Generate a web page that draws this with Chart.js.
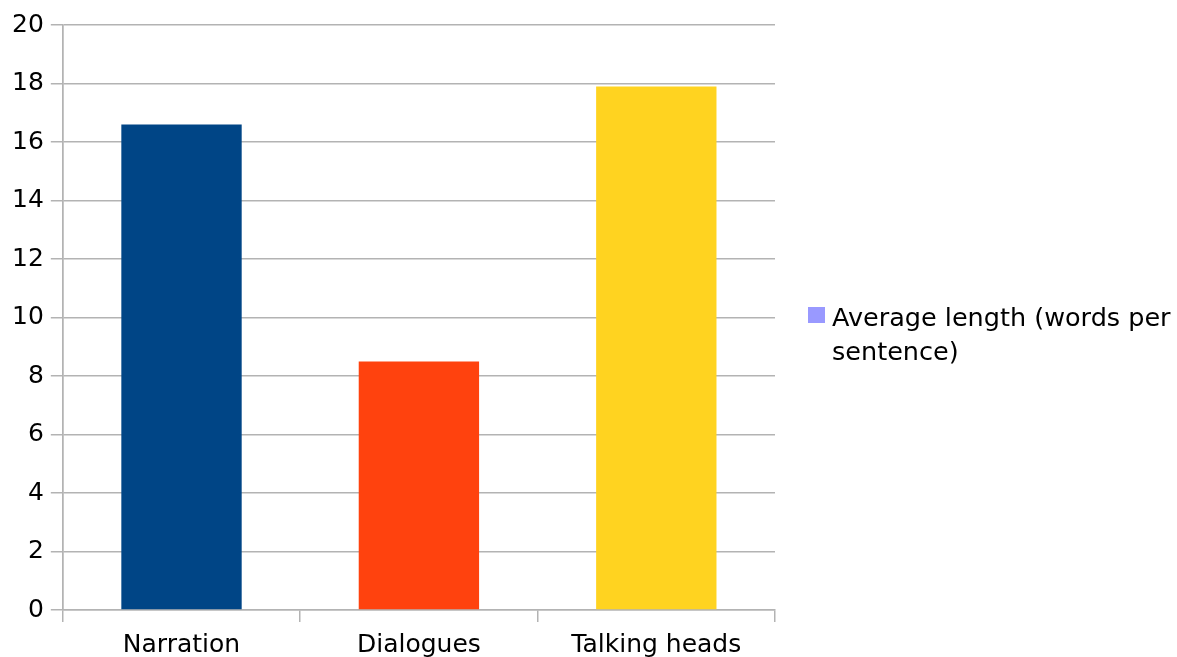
<!DOCTYPE html>
<html>
<head>
<meta charset="utf-8">
<script src="https://cdn.jsdelivr.net/npm/chart.js@4"></script>
<style>
  html, body { margin: 0; padding: 0; background: #fff; overflow: hidden; }
  #wrap { position: relative; width: 1177px; height: 657px; overflow: hidden; }
  #legend {
    position: absolute; left: 808px; top: 300px;
    font-family: "DejaVu Sans", sans-serif; font-size: 25.5px; line-height: 34px; color: #000;
  }
  #legend .sw {
    position: absolute; left: 0; top: 7px; width: 17px; height: 16px; background: #9999ff;
  }
  #legend .txt { margin-left: 24px; width: 360px; }
</style>
</head>
<body>
<div id="wrap">
  <canvas id="chart" width="1177" height="668"></canvas>
  <div id="legend"><div class="sw"></div><div class="txt">Average length (words per<br>sentence)</div></div>
</div>
<script>
  const categories = ['Narration', 'Dialogues', 'Talking heads'];
  const seriesLabel = 'Average length (words per sentence)';
  const averageLength = [16.6, 8.5, 17.9];
  const barColors = ['#004586', '#ff420e', '#ffd320'];

  const gridGray = '#b3b3b3';
  Chart.defaults.font.family = '"DejaVu Sans", sans-serif';
  Chart.defaults.font.size = 25;
  Chart.defaults.color = '#000';

  new Chart(document.getElementById('chart'), {
    type: 'bar',
    data: {
      labels: categories,
      datasets: [{
        label: seriesLabel,
        data: averageLength,
        backgroundColor: barColors,
        borderWidth: 0,
        categoryPercentage: 1,
        barPercentage: 0.507
      }]
    },
    options: {
      responsive: false,
      animation: false,
      layout: { padding: { left: 5, right: 402, top: 25, bottom: 0 } },
      plugins: { legend: { display: false }, tooltip: { enabled: false } },
      scales: {
        x: {
          offset: true,
          grid: {
            offset: true,
            drawOnChartArea: true,
            tickLength: 12,
            lineWidth: 1.5,
            tickColor: gridGray,
            color: (ctx) => (ctx.index === 0 || ctx.index === categories.length) ? gridGray : 'rgba(0,0,0,0)'
          },
          border: { color: gridGray, width: 1.5 },
          ticks: { padding: 8 }
        },
        y: {
          min: 0,
          max: 20,
          ticks: { stepSize: 2, padding: 7 },
          grid: { color: gridGray, tickLength: 12, lineWidth: 1.5 },
          border: { color: gridGray, width: 1.5 }
        }
      }
    }
  });
</script>
</body>
</html>
